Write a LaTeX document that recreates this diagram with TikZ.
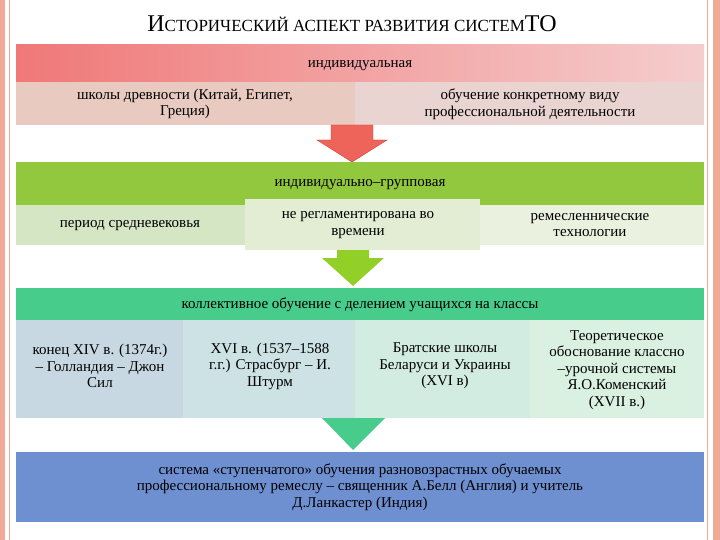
\documentclass[tikz,border=0pt]{standalone}
\usepackage{fontspec}
\setmainfont{Liberation Serif}
\definecolor{bord}{RGB}{240,170,150}
\definecolor{redA}{RGB}{240,120,120}
\definecolor{redB}{RGB}{245,205,205}
\definecolor{pk1}{RGB}{232,202,192}
\definecolor{pk2}{RGB}{234,212,210}
\definecolor{arR}{RGB}{238,100,90}
\definecolor{arRd}{RGB}{210,60,50}
\definecolor{grn}{RGB}{146,200,62}
\definecolor{g1}{RGB}{212,230,196}
\definecolor{g2}{RGB}{226,237,212}
\definecolor{g3}{RGB}{234,241,222}
\definecolor{arG}{RGB}{146,208,40}
\definecolor{teal}{RGB}{72,204,140}
\definecolor{t1}{RGB}{200,216,226}
\definecolor{t2}{RGB}{204,226,228}
\definecolor{t3}{RGB}{210,236,226}
\definecolor{t4}{RGB}{218,240,224}
\definecolor{blu}{RGB}{110,143,208}
\begin{document}
\begin{tikzpicture}[x=1pt,y=-1pt,
  txt/.style={font=\fontsize{15}{16.5}\selectfont,align=center,text=black}]
\useasboundingbox (0,0) rectangle (720,540);
\fill[white] (0,0) rectangle (720,540);
% page borders
\fill[bord] (0,0) rectangle (5,540);
\draw[bord,line width=1pt] (9,0) -- (9,540);
\fill[bord] (713,0) rectangle (720,540);
\draw[bord,line width=1pt] (707,0) -- (707,540);
% title
\node[font=\fontsize{17}{20}\selectfont] (title) at (352,24) {{\fontsize{24}{26}\selectfont И}СТОРИЧЕСКИЙ АСПЕКТ РАЗВИТИЯ СИСТЕМ{\fontsize{24}{26}\selectfont ТО}};
% red band
\shade[left color=redA, right color=redB] (16,45) rectangle (704,82);
\node[txt] (ind) at (360,66) {индивидуальная};
\fill[pk1] (16,82) rectangle (355,125);
\fill[pk2] (355,82) rectangle (704,125);
\node[txt] (a1) at (185,104) {школы древности (Китай, Египет,\\Греция)};
\node[txt] (a2) at (530,104) {обучение конкретному виду\\профессиональной деятельности};
% red arrow
\path[fill=arR, draw=arRd]
  (331,125) -- (373,125) -- (373,140) -- (387,140) -- (352,162) -- (317,140) -- (331,140) -- cycle;
% green band
\fill[grn] (16,162) rectangle (704,205);
\node[txt] (ig) at (360,185) {индивидуально–групповая};
\fill[g1] (16,205) rectangle (245,245);
\fill[g2] (245,199) rectangle (480,250);
\fill[g3] (480,205) rectangle (704,245);
\node[txt] (b1) at (130,226) {период средневековья};
\node[txt] (b2) at (358,225) {не регламентирована во\\времени};
\node[txt] (b3) at (590,225) {ремесленнические\\технологии};
% green arrow
\path[fill=arG]
  (337,250) -- (369,250) -- (369,258) -- (384,258) -- (353,286) -- (322,258) -- (337,258) -- cycle;
% teal band
\fill[teal] (16,288) rectangle (704,320);
\node[txt] (kl) at (360,305) {коллективное обучение с делением учащихся на классы};
\fill[t1] (16,320) rectangle (183,418);
\fill[t2] (183,320) rectangle (355,418);
\fill[t3] (355,320) rectangle (530,418);
\fill[t4] (530,320) rectangle (704,418);
\node[txt] (c1) at (100,366) {конец XIV в. (1374г.)\\– Голландия – Джон\\Сил};
\node[txt] (c2) at (270,366) {XVI в. (1537–1588\\г.г.) Страсбург – И.\\Штурм};
\node[txt] (c3) at (445,366) {Братские школы\\Беларуси и Украины\\(XVI в)};
\node[txt] (c4) at (617,370) {Теоретическое\\обоснование классно\\–урочной системы\\Я.О.Коменский\\(XVII в.)};
% teal arrow
\path[fill=teal] (322,418) -- (385,418) -- (353,450) -- cycle;
% blue band
\fill[blu] (16,452) rectangle (704,522);
\node[txt] (d) at (360,487) {система «ступенчатого» обучения разновозрастных обучаемых\\профессиональному ремеслу – священник А.Белл (Англия) и учитель\\Д.Ланкастер (Индия)};
\end{tikzpicture}
\end{document}
